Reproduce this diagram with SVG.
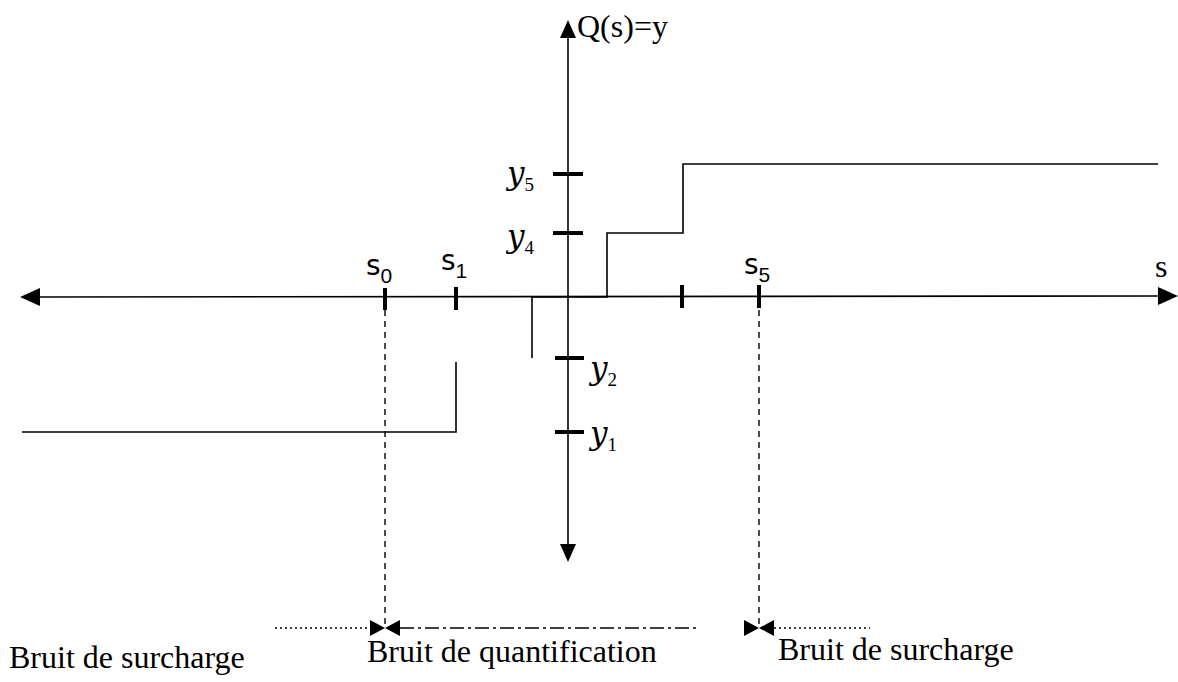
<svg xmlns="http://www.w3.org/2000/svg" width="1178" height="682" viewBox="0 0 1178 682">
<style>
.ax{stroke:#000;stroke-width:1.6;fill:none}
.st{stroke:#000;stroke-width:1.6;fill:none}
.tk{stroke:#000;stroke-width:4;fill:none}
.dash{stroke:#000;stroke-width:1.4;fill:none;stroke-dasharray:6 5}
.dot{stroke:#000;stroke-width:1.4;fill:none;stroke-dasharray:2 3}
.tri{fill:#000}
.lbl{font-family:"Liberation Serif",serif;font-size:32px;fill:#000}
.ym{font-family:"DejaVu Serif",serif;font-style:italic;font-size:31px;fill:#000}
.sm{font-family:"DejaVu Sans",sans-serif;font-size:28px;fill:#000}
.ysub{font-size:19px;font-style:normal;font-family:"Liberation Serif",serif}
.ssub{font-size:21px;font-family:"Liberation Sans",sans-serif}
</style>
<rect width="1178" height="682" fill="#fff"/>
<g id="connectors">
  <line class="ax" x1="568" y1="36" x2="568" y2="546"/>
  <polygon class="tri" points="568,20 560,38 576,38"/>
  <polygon class="tri" points="568,562 560,544 576,544"/>
  <line class="ax" x1="38" y1="297" x2="1160" y2="296"/>
  <polygon class="tri" points="20,297 40,288 40,306"/>
  <polygon class="tri" points="1178,296 1158,287 1158,305"/>
  <path class="st" d="M22,432 H456 V362"/>
  <path class="st" d="M532,358 V297 H607 V233 H683 V164 H1158"/>
  <line class="dash" x1="385" y1="310" x2="385" y2="626"/>
  <line class="dash" x1="759" y1="310" x2="759" y2="626"/>
  <line class="dot" x1="275" y1="628" x2="370" y2="628"/>
  <line class="dash" x1="400" y1="628" x2="700" y2="628" style="stroke-dasharray:14 4 3 4"/>
  <line class="dot" x1="774" y1="628" x2="870" y2="628"/>
  <polygon class="tri" points="370,620 370,636 385,628"/>
  <polygon class="tri" points="400,620 400,636 385,628"/>
  <polygon class="tri" points="744,620 744,636 759,628"/>
  <polygon class="tri" points="774,620 774,636 759,628"/>
</g>
<g id="ticks">
  <line class="tk" x1="553" y1="174" x2="583" y2="174"/>
  <line class="tk" x1="553" y1="233" x2="583" y2="233"/>
  <line class="tk" x1="555" y1="358" x2="584" y2="358"/>
  <line class="tk" x1="555" y1="432" x2="584" y2="432"/>
  <line class="tk" x1="385" y1="288" x2="385" y2="310"/>
  <line class="tk" x1="456" y1="287" x2="456" y2="310"/>
  <line class="tk" x1="682" y1="285" x2="682" y2="308"/>
  <line class="tk" x1="759" y1="285" x2="759" y2="308"/>
</g>
<g id="axis-labels">
  <text class="lbl" x="577" y="37">Q(s)=y</text>
  <text class="lbl" x="1155" y="277">s</text>
  <text class="ym" x="507" y="184">y<tspan class="ysub" dy="7">5</tspan></text>
  <text class="ym" x="507" y="247">y<tspan class="ysub" dy="7">4</tspan></text>
  <text class="ym" x="590" y="379">y<tspan class="ysub" dy="7">2</tspan></text>
  <text class="ym" x="590" y="444">y<tspan class="ysub" dy="7">1</tspan></text>
  <text class="sm" x="366" y="275">s<tspan class="ssub" dy="8">0</tspan></text>
  <text class="sm" x="441" y="270">s<tspan class="ssub" dy="8">1</tspan></text>
  <text class="sm" x="744" y="274">s<tspan class="ssub" dy="8">5</tspan></text>
</g>
<g id="noise-left"><text class="lbl" x="9" y="668">Bruit de surcharge</text></g>
<g id="noise-mid"><text class="lbl" x="367" y="662">Bruit de quantification</text></g>
<g id="noise-right"><text class="lbl" x="778" y="660">Bruit de surcharge</text></g>
</svg>
